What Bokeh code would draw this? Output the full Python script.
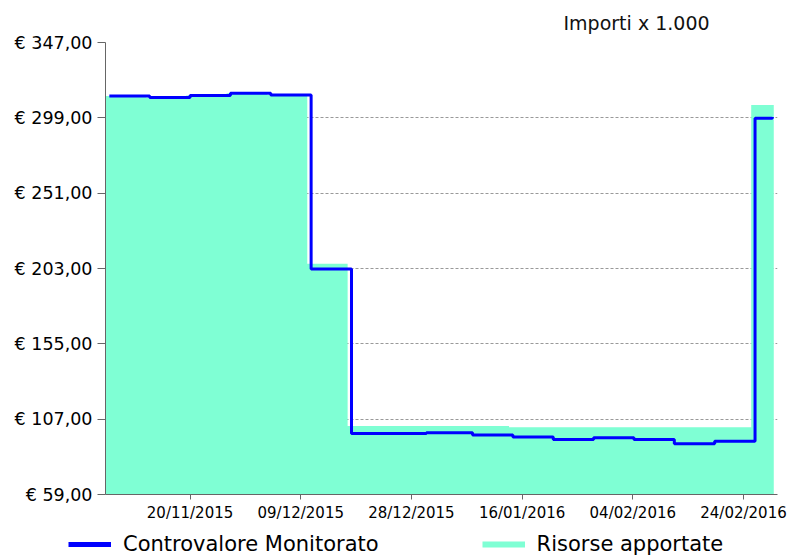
import pandas as pd
from bokeh.plotting import figure
from bokeh.layouts import column
from bokeh.models import (ColumnDataSource, Range1d, FixedTicker, DatetimeTickFormatter,
                          CustomJSTickFormatter, Legend, LegendItem)
from bokeh.embed import file_html
from bokeh.resources import INLINE

# ---- data (values in thousands of euro) ----
dates = ["2015-11-06", "2015-11-13", "2015-11-20", "2015-11-27", "2015-12-04",
         "2015-12-11", "2015-12-18", "2015-12-24", "2015-12-31", "2016-01-08",
         "2016-01-15", "2016-01-22", "2016-01-29", "2016-02-05", "2016-02-12",
         "2016-02-19", "2016-02-26", "2016-02-29"]
controvalore = [312.9, 312.0, 313.3, 314.6, 313.5,
                202.7, 97.8, 97.8, 98.4, 96.9,
                95.6, 94.0, 95.2, 94.0, 91.4,
                92.9, 298.7, 299.6]

risorse_dates = ["2015-11-05 08:00", "2015-11-12 08:00", "2015-11-19 08:00", "2015-11-26 08:00",
                 "2015-12-03 08:00", "2015-12-10 08:00", "2015-12-17 08:00", "2016-01-14 08:00",
                 "2016-02-25 08:00", "2016-02-29 06:00"]
risorse = [312.9, 312.0, 313.3, 314.6, 313.5, 206.1, 102.6, 101.8, 307.1, 307.1]

y_ticks = [59, 107, 155, 203, 251, 299, 347]
x_tick_dates = ["2015-11-20 00:00", "2015-12-09 04:48", "2015-12-28 09:36",
                "2016-01-16 14:24", "2016-02-04 19:12", "2016-02-24 00:00"]
x_start, x_end = "2015-11-05 08:00", "2016-02-29 21:30"
series_names = ["Controvalore Monitorato", "Risorse apportate"]

FONT = "DejaVu Sans"
LINE_COL = "#0000FF"
FILL_COL = "#7FFFD4"

src_line = ColumnDataSource(dict(x=pd.to_datetime(dates), y=controvalore))
src_fill = ColumnDataSource(dict(x=pd.to_datetime(risorse_dates), y=risorse,
                                 y0=[0] * len(risorse)))

p = figure(width=798, height=524, x_axis_type="datetime",
           x_range=Range1d(pd.Timestamp(x_start), pd.Timestamp(x_end)),
           y_range=Range1d(y_ticks[0], y_ticks[-1]),
           output_backend="svg", toolbar_location=None,
           title="Importi x 1.000",
           min_border_left=105, min_border_right=21, min_border_top=42, min_border_bottom=29)
p.outline_line_color = None
p.background_fill_color = "white"
p.frame_align = False

# title
p.title.align = "left"
p.title.offset = 458
p.title.text_font = FONT
p.title.text_font_style = "normal"
p.title.text_font_size = "19px"
p.title.text_color = "#111111"
p.title.standoff = 17

# fill and line
p.varea_step(x="x", y1="y0", y2="y", step_mode="after", source=src_fill,
             fill_color=FILL_COL, fill_alpha=1.0)
p.step(x="x", y="y", mode="after", source=src_line, line_color=LINE_COL, line_width=3)

# axes
ax_col = "#666666"
p.yaxis.ticker = FixedTicker(ticks=y_ticks)
p.yaxis.formatter = CustomJSTickFormatter(code='return "\u20ac " + tick.toFixed(2).replace(".", ",");')
p.xaxis.ticker = FixedTicker(ticks=[pd.Timestamp(d).value / 1e6 for d in x_tick_dates])
fmt = "%d/%m/%Y"
p.xaxis.formatter = DatetimeTickFormatter(milliseconds=fmt, seconds=fmt, minsec=fmt, minutes=fmt,
                                          hourmin=fmt, hours=fmt, days=fmt, months=fmt, years=fmt)
for ax in (p.xaxis, p.yaxis):
    ax.axis_line_color = ax_col
    ax.major_tick_line_color = ax_col
    ax.minor_tick_line_color = None
    ax.major_tick_in = 0
    ax.major_label_text_font = FONT
    ax.major_label_text_color = "#000000"
p.yaxis.major_tick_out = 8
p.yaxis.major_label_standoff = 5
p.yaxis.major_label_text_font_size = "17.5px"
p.xaxis.major_tick_out = 5
p.xaxis.major_label_standoff = 4
p.xaxis.major_label_text_font_size = "15px"

p.xgrid.grid_line_color = None
p.ygrid.grid_line_color = "#999999"
p.ygrid.grid_line_dash = "3 2"
p.ygrid.grid_line_width = 1

# legend strip below the chart (its own frame spans the full width)
lg = figure(width=798, height=32, x_range=Range1d(0, 1), y_range=Range1d(0, 1),
            output_backend="svg", toolbar_location=None,
            x_axis_location=None, y_axis_location=None,
            min_border_left=0, min_border_right=0, min_border_top=0, min_border_bottom=0)
lg.frame_align = False
lg.outline_line_color = None
lg.background_fill_color = "white"
lg.xgrid.grid_line_color = None
lg.ygrid.grid_line_color = None
# swatch renderers: data placed outside the visible range, only used by the legend
r1 = lg.line(x=[-2, -1], y=[-2, -2], line_color=LINE_COL, line_width=5)
r2 = lg.line(x=[-2, -1], y=[-2, -2], line_color=FILL_COL, line_width=6)
legend = Legend(items=[LegendItem(label=series_names[0], renderers=[r1]),
                       LegendItem(label=series_names[1], renderers=[r2])],
                orientation="horizontal", location=(68, 0),
                glyph_width=43, glyph_height=16, label_standoff=12, spacing=103,
                padding=0, margin=0, border_line_color=None, background_fill_alpha=0,
                label_text_font=FONT, label_text_font_size="21px", label_text_color="#000000")
lg.add_layout(legend, "center")

layout = column(p, lg, spacing=0)
open("out.html", "w").write(file_html(layout, INLINE))
